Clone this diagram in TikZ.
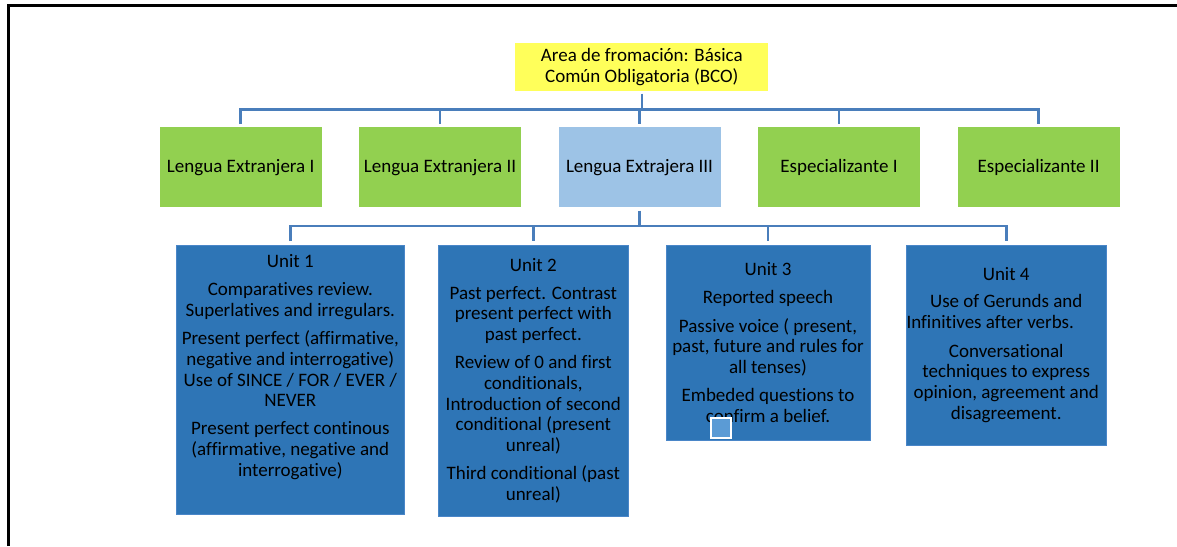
\documentclass[tikz,border=0pt]{standalone}
\usepackage{fontspec}
\setmainfont[Ligatures=NoCommon]{Carlito}
\definecolor{linkblue}{HTML}{4A7EBB}
\definecolor{areagreen}{HTML}{92D050}
\definecolor{areayellow}{HTML}{FFFF5A}
\definecolor{paleblue}{HTML}{9DC3E6}
\definecolor{unitblue}{HTML}{2E75B6}
\definecolor{unitedge}{HTML}{4A86C8}
\definecolor{handleblue}{HTML}{5B9BD5}

\begin{document}
\begin{tikzpicture}[x=1pt,y=-1pt,font=\fontsize{19}{20.7}\selectfont,
  topbox/.style={fill=areayellow,minimum width=253pt,minimum height=48pt,inner sep=0pt,align=center},
  box/.style={fill=areagreen,minimum width=162pt,minimum height=80pt,inner sep=0pt},
  unitbox/.style={fill=unitblue,draw=unitedge,line width=0.6pt,inner sep=0pt,align=center},
  link/.style={draw=linkblue,line width=2.6pt}]
\useasboundingbox (0,0) rectangle (1177,546);
\draw[line width=3pt] (8.7,546) -- (8.7,5.8) -- (1177,5.8);

\node[topbox] (bco) at (641.8,67) {Area de fromación: Básica\\Común Obligatoria (BCO)};

\node[box] (le1) at (240.7,167.4) {Lengua Extranjera I};
\node[box] (le2) at (440,167.4) {Lengua Extranjera II};
\node[box,fill=paleblue] (le3) at (639.5,167.4) {Lengua Extrajera III};
\node[box] (esp1) at (839,167.4) {Especializante I};
\node[box] (esp2) at (1038.6,167.4) {Especializante II};

\node[unitbox,minimum width=228.6pt,minimum height=269pt] (unit1) at (290.3,379.5) {Unit 1\\[7.3pt]Comparatives review.\\Superlatives and irregulars.\\[7.3pt]Present perfect (affirmative,\\negative and interrogative)\\Use of SINCE / FOR / EVER /\\NEVER\\[7.3pt]Present perfect continous\\(affirmative, negative and\\interrogative)\\[7.3pt]\mbox{}};
\node[unitbox,minimum width=190.7pt,minimum height=271pt] (unit2) at (533.3,380.5) {Unit 2\\[7.3pt]Past perfect. Contrast\\present perfect with\\past perfect.\\[7.3pt]Review of 0 and first\\conditionals,\\Introduction of second\\conditional (present\\unreal)\\[7.3pt]Third conditional (past\\unreal)};
\node[unitbox,minimum width=204pt,minimum height=195pt] (unit3) at (768,342.5) {Unit 3\\[7.3pt]Reported speech\\[7.8pt]Passive voice ( present,\\past, future and rules for\\all tenses)\\[7.3pt]Embeded questions to\\confirm a belief.};
\node[unitbox,minimum width=198.5pt,minimum height=200pt] (unit4) at (1006.2,345) {Unit 4\\[6.3pt]Use of Gerunds and\\Infinitives after verbs.\kern32pt\\[8.3pt]Conversational\\techniques to express\\opinion, agreement and\\disagreement.};
\draw[white,line width=2pt,fill=handleblue] (711,418) rectangle (731,438);

\coordinate (bar1) at (0,109.5);
\coordinate (bar2) at (0,226);
\draw[link,shorten <=2.5pt] (bco.south) -- (bco.south |- bar1);
\draw[link,shorten <=3pt,shorten >=3pt] (le1.north) -- (le1.north |- bar1) -- (esp2.north |- bar1) -- (esp2.north);
\draw[link,shorten >=3pt] (le2.north |- bar1) -- (le2.north);
\draw[link,shorten >=3pt] (le3.north |- bar1) -- (le3.north);
\draw[link,shorten >=3pt] (esp1.north |- bar1) -- (esp1.north);

\draw[link,shorten <=3pt] (le3.south) -- (le3.south |- bar2);
\draw[link,shorten <=3.5pt,shorten >=3.5pt] (unit1.north) -- (unit1.north |- bar2) -- (unit4.north |- bar2) -- (unit4.north);
\draw[link,shorten >=3.5pt] (unit2.north |- bar2) -- (unit2.north);
\draw[link,shorten >=3.5pt] (unit3.north |- bar2) -- (unit3.north);
\end{tikzpicture}
\end{document}
